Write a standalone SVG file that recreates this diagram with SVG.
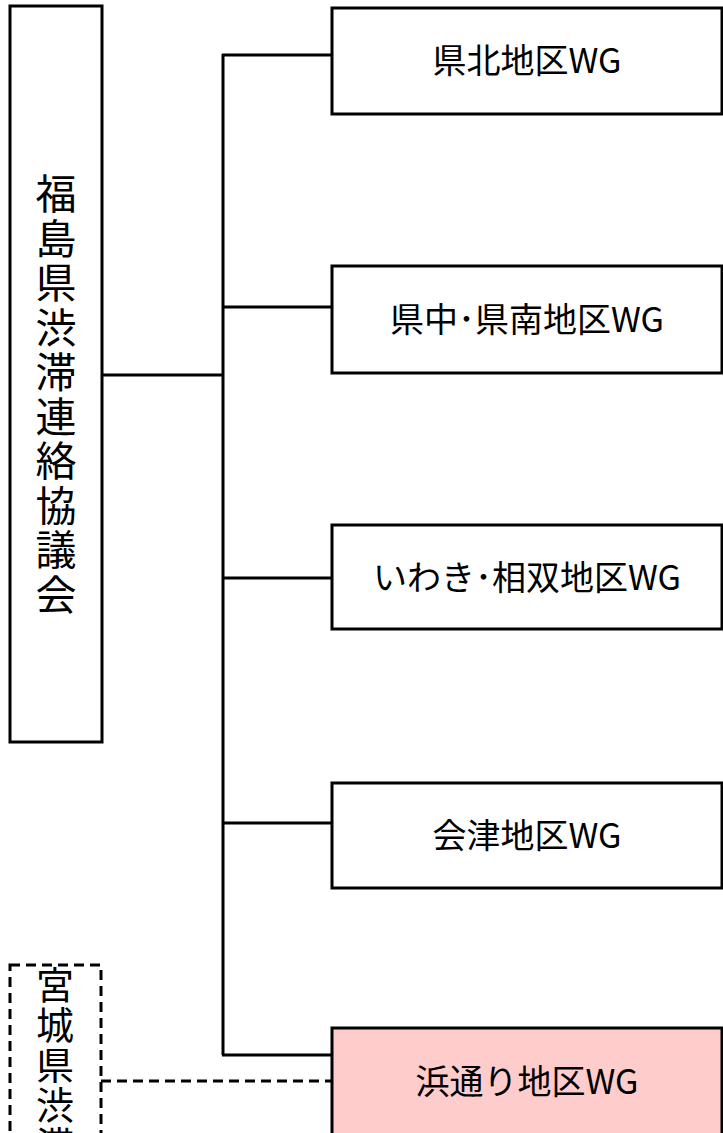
<svg xmlns="http://www.w3.org/2000/svg" width="723" height="1133" viewBox="0 0 723 1133">
<style>
.box{fill:#ffffff;stroke:#000000;stroke-width:3}
.pink{fill:#ffcccc;stroke:#000000;stroke-width:3}
.dbox{fill:none;stroke:#000000;stroke-width:3;stroke-dasharray:10 6}
.ln{fill:none;stroke:#000000;stroke-width:3}
.dln{fill:none;stroke:#000000;stroke-width:3;stroke-dasharray:10 6}
.t{font-family:"Noto Sans CJK JP","Noto Sans",sans-serif;font-size:34px;fill:#000000;text-anchor:middle}
.v{font-family:"Noto Sans CJK JP",sans-serif;font-size:41px;fill:#000000;text-anchor:middle}
.vd{font-family:"Noto Sans CJK JP",sans-serif;font-size:38px;fill:#000000;text-anchor:middle}
</style>
<rect width="723" height="1133" fill="#ffffff"/>
<g id="connectors">
<polyline class="ln" points="102,375 223,375"/>
<polyline class="ln" points="223,54 223,1055"/>
<polyline class="ln" points="222,55 332,55"/>
<polyline class="ln" points="223,307 332,307"/>
<polyline class="ln" points="223,578 332,578"/>
<polyline class="ln" points="223,823 332,823"/>
<polyline class="ln" points="222,1055 332,1055"/>
<polyline class="dln" points="101,1081 332,1081"/>
</g>
<g id="fukushima">
<rect class="box" x="10" y="6" width="92" height="736"/>
<text class="v" x="56" y="209">福</text>
<text class="v" x="56" y="253.5">島</text>
<text class="v" x="56" y="298">県</text>
<text class="v" x="56" y="342.5">渋</text>
<text class="v" x="56" y="387">滞</text>
<text class="v" x="56" y="431.5">連</text>
<text class="v" x="56" y="476">絡</text>
<text class="v" x="56" y="520.5">協</text>
<text class="v" x="56" y="565">議</text>
<text class="v" x="56" y="609.5">会</text>
</g>
<g id="miyagi">
<rect class="dbox" x="10" y="965" width="91" height="200"/>
<text class="vd" x="55" y="999">宮</text>
<text class="vd" x="55" y="1039">城</text>
<text class="vd" x="55" y="1079">県</text>
<text class="vd" x="55" y="1119">渋</text>
<text class="vd" x="55" y="1159">滞</text>
</g>
<g id="kenpoku">
<rect class="box" x="332" y="8" width="390" height="106"/>
<text class="t" x="527" y="73">県北地区WG</text>
</g>
<g id="kenchu">
<rect class="box" x="332" y="266" width="390" height="107"/>
<text class="t" x="527" y="332">県中･県南地区WG</text>
</g>
<g id="iwaki">
<rect class="box" x="332" y="525" width="390" height="104"/>
<text class="t" x="527" y="590">いわき･相双地区WG</text>
</g>
<g id="aizu">
<rect class="box" x="332" y="783" width="390" height="105"/>
<text class="t" x="527" y="848">会津地区WG</text>
</g>
<g id="hamadori">
<rect class="pink" x="332" y="1028" width="390" height="130"/>
<text class="t" x="527" y="1094">浜通り地区WG</text>
</g>
</svg>
